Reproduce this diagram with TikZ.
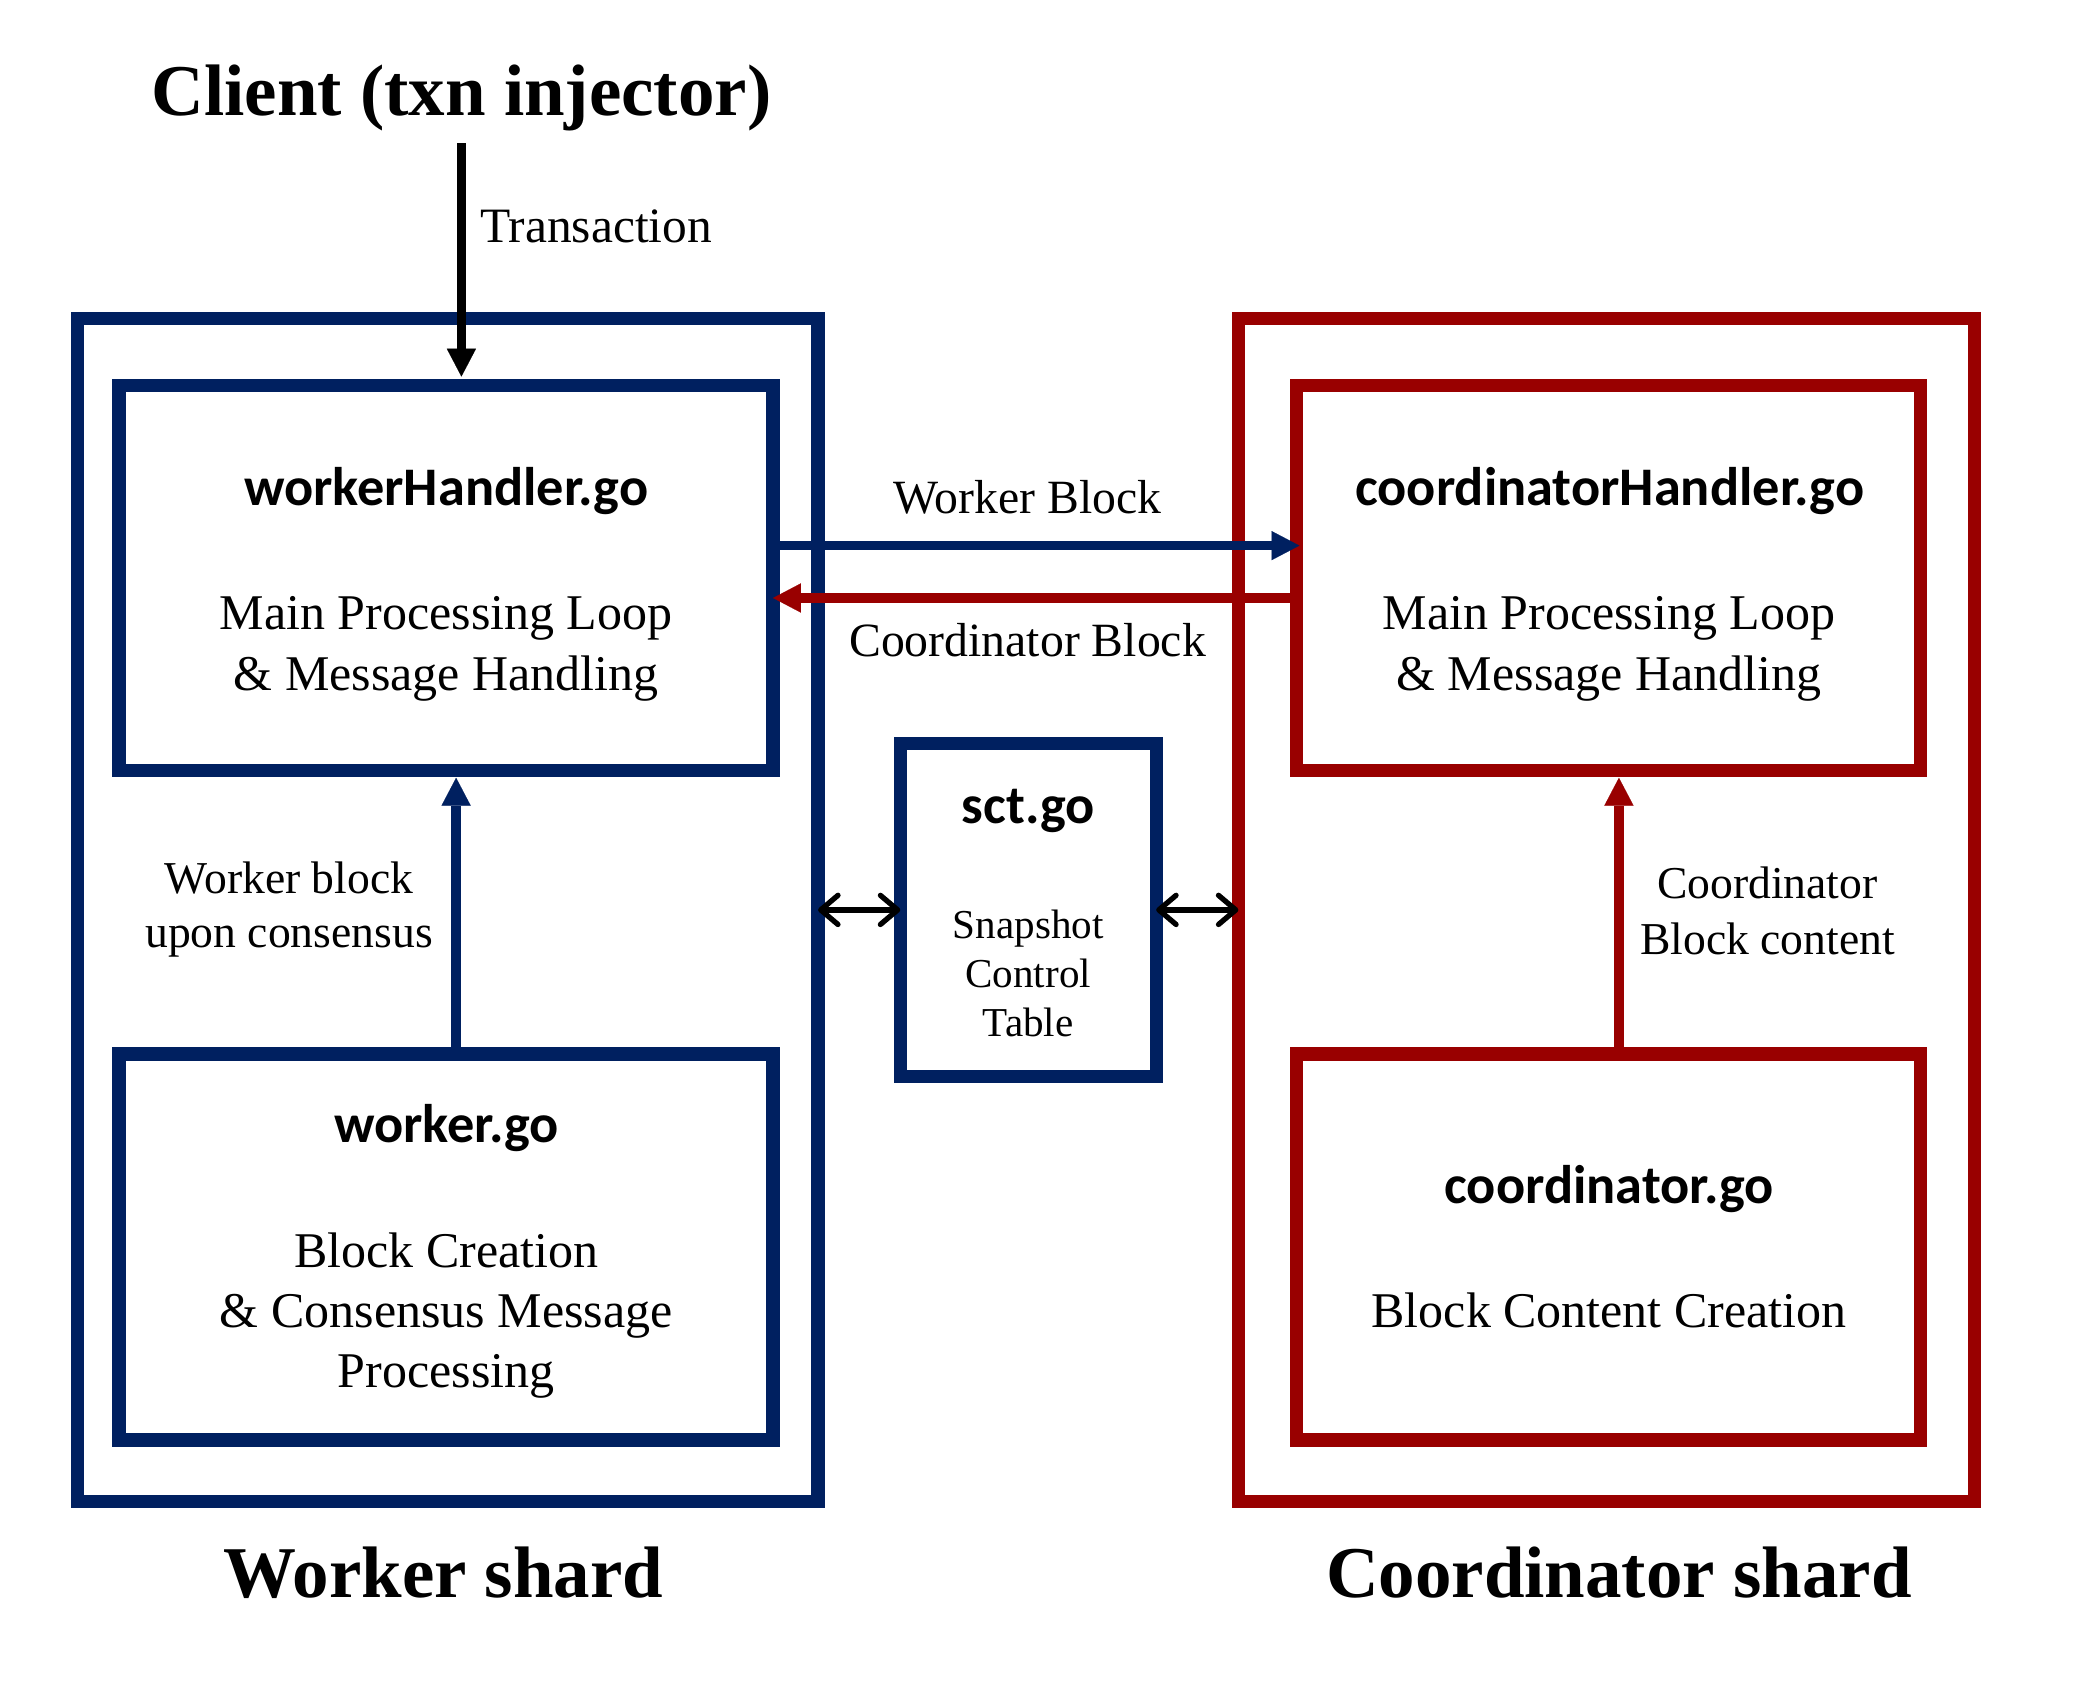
\documentclass[tikz,border=0pt]{standalone}
\usepackage{fontspec}
\setmainfont{Liberation Serif}
\newfontfamily\carlito{Carlito}
\usetikzlibrary{arrows.meta}
\definecolor{wblue}{HTML}{002060}
\definecolor{cred}{HTML}{990000}
\begin{document}
\begin{tikzpicture}[x=1pt,y=-1pt,
  shbox/.style={draw, line width=10pt, rectangle, inner sep=0pt, outer sep=0pt},
  thickarrow/.style={line width=7pt, -{Triangle[length=21pt,width=22pt,line width=0.1pt]}},
  dbl/.style={line width=4pt, arrows={Straight Barb[length=13pt,width=22pt,round]-Straight Barb[length=13pt,width=22pt,round]}},
  ttl/.style={font=\fontsize{55}{66}\selectfont\bfseries, anchor=base, inner sep=0pt},
  file/.style={font=\fontsize{41}{49}\selectfont\carlito\bfseries, anchor=base, inner sep=0pt},
  body/.style={font=\fontsize{37.7}{45}\selectfont, anchor=base, inner sep=0pt},
  lbl/.style={font=\fontsize{36}{43}\selectfont, anchor=base, inner sep=0pt},
  lbls/.style={font=\fontsize{34.4}{41}\selectfont, anchor=base, inner sep=0pt},
  small/.style={font=\fontsize{31}{37}\selectfont, anchor=base, inner sep=0pt}
]
\useasboundingbox[fill=white] (0,0) rectangle (1568,1274);

% titles
\node[ttl] (client) at (348,87) {Client (txn injector)};
\node[ttl] (wstitle) at (334.5,1205) {Worker shard};
\node[ttl] (cstitle) at (1221,1205) {Coordinator shard};

% shard boxes
\node[shbox, draw=wblue, minimum width=558.4pt, minimum height=892.5pt] (ws) at (337.8,686.25) {};
\node[shbox, draw=cred, minimum width=555pt, minimum height=892.5pt] (cs) at (1211.5,686.25) {};

% inner boxes
\node[shbox, draw=wblue, minimum width=493.3pt, minimum height=290pt] (wh) at (336.35,436) {};
\node[shbox, draw=wblue, minimum width=493.3pt, minimum height=291pt] (wk) at (336.35,940.5) {};
\node[shbox, draw=cred, minimum width=470.5pt, minimum height=290pt] (ch) at (1213.25,436) {};
\node[shbox, draw=cred, minimum width=470.5pt, minimum height=291pt] (co) at (1213.25,940.5) {};
\node[shbox, draw=wblue, minimum width=193pt, minimum height=251.5pt] (sct) at (775.5,686.25) {};

% box texts
\node[file] (whf) at (336.5,381) {workerHandler.go};
\node[body] (wh1) at (336.5,475) {Main Processing Loop};
\node[body] (wh2) at (336.5,521) {\& Message Handling};

\node[file] (chf) at (1214,381) {coordinatorHandler.go};
\node[body] (ch1) at (1213.5,475) {Main Processing Loop};
\node[body] (ch2) at (1213.5,521) {\& Message Handling};

\node[file] (wkf) at (336.7,862) {worker.go};
\node[body] (wk1) at (336.5,956) {Block Creation};
\node[body] (wk2) at (336.5,1001) {\& Consensus Message};
\node[body] (wk3) at (336.5,1046.5) {Processing};

\node[file] (cof) at (1213.6,908) {coordinator.go};
\node[body] (co1) at (1213.5,1001) {Block Content Creation};

\node[file] (sctf) at (775.5,620.8) {sct.go};
\node[small] (sct1) at (775.5,707.5) {Snapshot};
\node[small] (sct2) at (775.5,744.6) {Control};
\node[small] (sct3) at (775.5,781.9) {Table};

% transaction arrow
\coordinate (tx) at (348,108);
\draw[thickarrow, black, shorten >=7pt] (tx) -- (tx |- wh.north);
\node[lbl, font=\fontsize{37.3}{45}\selectfont, anchor=base west] (txl) at (362,183) {Transaction};

% worker <-> coordinator
\draw[thickarrow, wblue, shorten >=-2pt] ([yshift=24.5pt]wh.east) -- ([yshift=24.5pt]ch.west);
\node[lbl] (wbl) at (775,387) {Worker Block};
\draw[thickarrow, cred] ([yshift=-15pt]ch.west) -- ([yshift=-15pt]wh.east);
\node[lbl] (cbl) at (775,495.3) {Coordinator Block};

% vertical arrows
\draw[thickarrow, wblue, shorten >=5.6pt] ([xshift=7.65pt]wk.north) -- ([xshift=7.65pt]wh.south);
\node[lbls] (wbu1) at (218,674) {Worker block};
\node[lbls] (wbu2) at (218,714.8) {upon consensus};

\draw[thickarrow, cred, shorten >=5.6pt] ([xshift=7.75pt]co.north) -- ([xshift=7.75pt]ch.south);
\node[lbls] (cbc1) at (1333,678) {Coordinator};
\node[lbls] (cbc2) at (1333,719.6) {Block content};

% sct double arrows
\draw[dbl] (ws.east |- sct.west) -- (sct.west);
\draw[dbl] (sct.east) -- (sct.east -| cs.west);
\end{tikzpicture}
\end{document}
